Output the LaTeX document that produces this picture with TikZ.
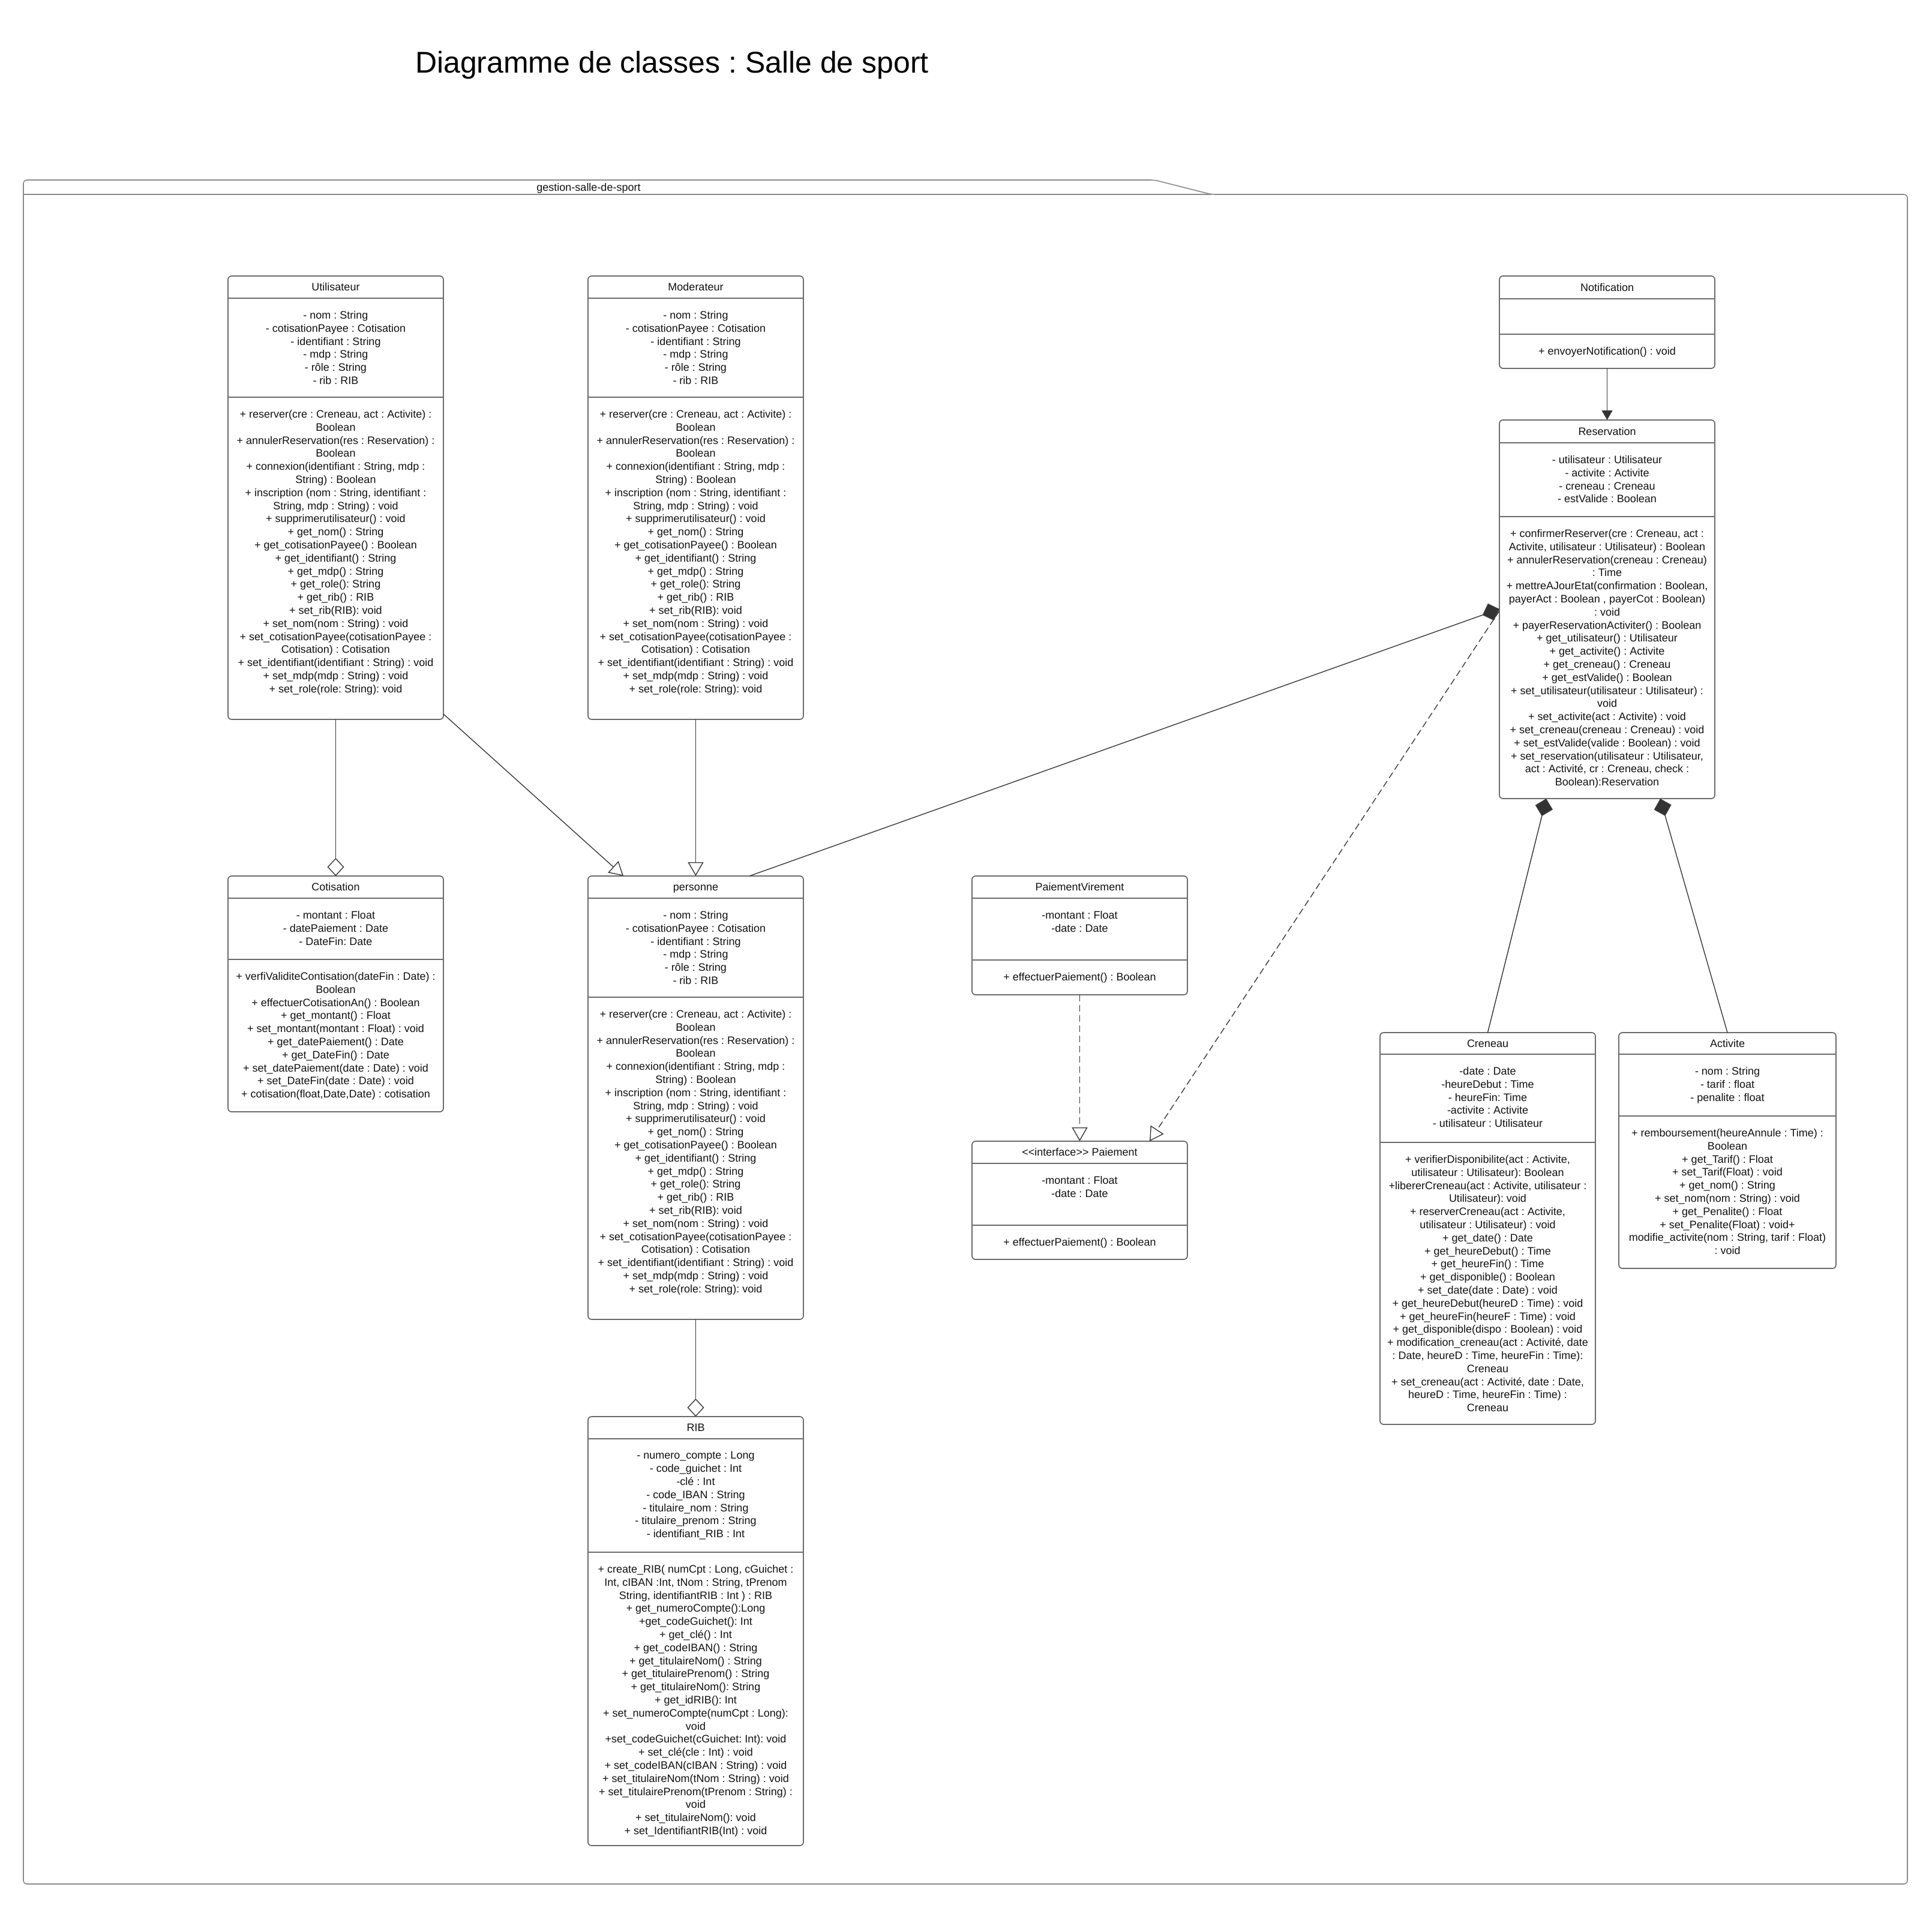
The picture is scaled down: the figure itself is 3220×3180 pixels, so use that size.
\documentclass[tikz,border=0pt]{standalone}
\usepackage{fontspec}
\setmainfont{Liberation Sans}
\usetikzlibrary{arrows.meta,calc,fit}
\frenchspacing

\definecolor{boxline}{HTML}{6B6B6B}
\definecolor{linkline}{HTML}{3A3A3A}
\definecolor{headfill}{HTML}{333333}
\definecolor{pkgline}{HTML}{8A8A8A}
\definecolor{txt}{HTML}{111111}

\tikzset{
  classframe/.style={rectangle, draw=boxline, line width=0.9pt, rounded corners=3pt,
    inner sep=0pt, outer sep=0pt},
  divider/.style={draw=boxline, line width=0.9pt},
  classtitle/.style={font=\fontsize{9pt}{10.9pt}\selectfont, text=txt, inner sep=0pt, anchor=base},
  members/.style={font=\fontsize{9pt}{10.9pt}\selectfont, text=txt, align=center,
    inner sep=0pt, anchor=north},
  conn/.style={draw=linkline, line width=0.7pt},
  aggr/.style={conn, -{Diamond[open, length=15pt, width=14pt, fill=white]}},
  comp/.style={conn, -{Diamond[length=15pt, width=15pt, fill=headfill]}},
  inherit/.style={conn, -{Triangle[open, length=11.5pt, width=13pt, fill=white]}},
  realize/.style={conn, dash pattern=on 5.5pt off 3pt,
    -{Triangle[open, length=11.5pt, width=13pt, fill=white]}},
  assoc/.style={conn, -{Triangle[length=8pt, width=9pt, fill=headfill]}},
}

% class box: name, left x, top y, bottom y, title rule y, attribute rule y,
% title, attributes, operations
\newcommand\umlclass[9]{%
  \pgfmathsetmacro\ucxl{#2}%
  \pgfmathsetmacro\ucxr{#2+\ucwidth}%
  \pgfmathsetmacro\ucxc{#2+\ucwidth/2}%
  \node[classframe, fit={(\ucxl,#3) (\ucxr,#4)}] (#1) {};
  \draw[divider] (\ucxl,#5) -- (\ucxr,#5);
  \draw[divider] (\ucxl,#6) -- (\ucxr,#6);
  \node[classtitle] (#1-t) at (\ucxc,{(#3+#5)/2+6.4}) {#7};
  \node[members] (#1-a) at (\ucxc,#5+21) {#8};
  \node[members] (#1-m) at (\ucxc,#6+21) {#9};
}
\newcommand\ucwidth{359}

\newcommand\personattrs{%
- nom : String\\
- cotisationPayee : Cotisation\\
- identifiant : String\\
- mdp : String\\
- rôle : String\\
- rib : RIB}

\newcommand\personops{%
+ reserver(cre : Creneau, act : Activite) :\\
Boolean\\
+ annulerReservation(res : Reservation) :\\
Boolean\\
+ connexion(identifiant : String, mdp :\\
String) : Boolean\\
+ inscription (nom : String, identifiant :\\
String, mdp : String) : void\\
+ supprimerutilisateur() : void\\
+ get\_nom() : String\\
+ get\_cotisationPayee() : Boolean\\
+ get\_identifiant() : String\\
+ get\_mdp() : String\\
+ get\_role(): String\\
+ get\_rib() : RIB\\
+ set\_rib(RIB): void\\
+ set\_nom(nom : String) : void\\
+ set\_cotisationPayee(cotisationPayee :\\
Cotisation) : Cotisation\\
+ set\_identifiant(identifiant : String) : void\\
+ set\_mdp(mdp : String) : void\\
+ set\_role(role: String): void}

\begin{document}
\begin{tikzpicture}[x=0.5pt, y=-0.5pt]
\fill[white] (0,0) rectangle (3220,3180);
\useasboundingbox (0,0) rectangle (3220,3180);

% heading
\node[font=\fontsize{25pt}{30pt}\selectfont, text=black, inner sep=0pt, anchor=base]
  (title) at (1120,121) {Diagramme de classes : Salle de sport};

% package frame with its tab
\draw[pkgline, line width=0.8pt, rounded corners=3pt]
  (39,324) -- (39,300) -- (1924,300) -- (2019,324) -- (3179,324) -- (3179,3140)
  -- (39,3140) -- cycle;
\draw[pkgline, line width=0.8pt] (39,324) -- (2019,324);
\node[font=\fontsize{9pt}{10.9pt}\selectfont, text=txt, inner sep=0pt, anchor=base]
  (pkglabel) at (981,318) {gestion-salle-de-sport};

% classes
\umlclass{util}{380}{460}{1199}{497}{662}{Utilisateur}{\personattrs}{\personops}
\umlclass{mod}{980}{460}{1199}{497}{662}{Moderateur}{\personattrs}{\personops}
\umlclass{note}{2499}{460}{614}{498}{557}{Notification}{}{+ envoyerNotification() : void}
\umlclass{res}{2499}{700}{1331}{738}{861}{Reservation}{%
- utilisateur : Utilisateur\\
- activite : Activite\\
- creneau : Creneau\\
- estValide : Boolean}{%
+ confirmerReserver(cre : Creneau, act :\\
Activite, utilisateur : Utilisateur) : Boolean\\
+ annulerReservation(creneau : Creneau)\\
: Time\\
+ mettreAJourEtat(confirmation : Boolean,\\
payerAct : Boolean , payerCot : Boolean)\\
: void\\
+ payerReservationActiviter() : Boolean\\
+ get\_utilisateur() : Utilisateur\\
+ get\_activite() : Activite\\
+ get\_creneau() : Creneau\\
+ get\_estValide() : Boolean\\
+ set\_utilisateur(utilisateur : Utilisateur) :\\
void\\
+ set\_activite(act : Activite) : void\\
+ set\_creneau(creneau : Creneau) : void\\
+ set\_estValide(valide : Boolean) : void\\
+ set\_reservation(utilisateur : Utilisateur,\\
act : Activité, cr : Creneau, check :\\
Boolean):Reservation}
\umlclass{coti}{380}{1460}{1853}{1497}{1599}{Cotisation}{%
- montant : Float\\
- datePaiement : Date\\
- DateFin: Date}{%
+ verfiValiditeContisation(dateFin : Date) :\\
Boolean\\
+ effectuerCotisationAn() : Boolean\\
+ get\_montant() : Float\\
+ set\_montant(montant : Float) : void\\
+ get\_datePaiement() : Date\\
+ get\_DateFin() : Date\\
+ set\_datePaiement(date : Date) : void\\
+ set\_DateFin(date : Date) : void\\
+ cotisation(float,Date,Date) : cotisation}
\umlclass{pers}{980}{1460}{2199}{1497}{1662}{personne}{\personattrs}{\personops}
\umlclass{pv}{1620}{1460}{1658}{1497}{1600}{PaiementVirement}{%
-montant : Float\\
-date : Date}{+ effectuerPaiement() : Boolean}
\umlclass{pay}{1620}{1902}{2099}{1939}{2042}{<{}<interface>{}> Paiement}{%
-montant : Float\\
-date : Date}{+ effectuerPaiement() : Boolean}
\umlclass{cre}{2300}{1721}{2374}{1757}{1904}{Creneau}{%
-date : Date\\
-heureDebut : Time\\
- heureFin: Time\\
-activite : Activite\\
- utilisateur : Utilisateur}{%
+ verifierDisponibilite(act : Activite,\\
utilisateur : Utilisateur): Boolean\\
+libererCreneau(act : Activite, utilisateur :\\
Utilisateur): void\\
+ reserverCreneau(act : Activite,\\
utilisateur : Utilisateur) : void\\
+ get\_date() : Date\\
+ get\_heureDebut() : Time\\
+ get\_heureFin() : Time\\
+ get\_disponible() : Boolean\\
+ set\_date(date : Date) : void\\
+ get\_heureDebut(heureD : Time) : void\\
+ get\_heureFin(heureF : Time) : void\\
+ get\_disponible(dispo : Boolean) : void\\
+ modification\_creneau(act : Activité, date\\
: Date, heureD : Time, heureFin : Time):\\
Creneau\\
+ set\_creneau(act : Activité, date : Date,\\
heureD : Time, heureFin : Time) :\\
Creneau}
\renewcommand\ucwidth{362}
\umlclass{act}{2698}{1721}{2114}{1757}{1860}{Activite}{%
- nom : String\\
- tarif : float\\
- penalite : float}{%
+ remboursement(heureAnnule : Time) :\\
Boolean\\
+ get\_Tarif() : Float\\
+ set\_Tarif(Float) : void\\
+ get\_nom() : String\\
+ set\_nom(nom : String) : void\\
+ get\_Penalite() : Float\\
+ set\_Penalite(Float) : void+\\
modifie\_activite(nom : String, tarif : Float)\\
: void}
\renewcommand\ucwidth{359}
\umlclass{rib}{980}{2361}{3076}{2398}{2587}{RIB}{%
- numero\_compte : Long\\
- code\_guichet : Int\\
-clé : Int\\
- code\_IBAN : String\\
- titulaire\_nom : String\\
- titulaire\_prenom : String\\
- identifiant\_RIB : Int}{%
+ create\_RIB( numCpt : Long, cGuichet :\\
Int, cIBAN :Int, tNom : String, tPrenom\\
String, identifiantRIB : Int ) : RIB\\
+ get\_numeroCompte():Long\\
+get\_codeGuichet(): Int\\
+ get\_clé() : Int\\
+ get\_codeIBAN() : String\\
+ get\_titulaireNom() : String\\
+ get\_titulairePrenom() : String\\
+ get\_titulaireNom(): String\\
+ get\_idRIB(): Int\\
+ set\_numeroCompte(numCpt : Long):\\
void\\
+set\_codeGuichet(cGuichet: Int): void\\
+ set\_clé(cle : Int) : void\\
+ set\_codeIBAN(cIBAN : String) : void\\
+ set\_titulaireNom(tNom : String) : void\\
+ set\_titulairePrenom(tPrenom : String) :\\
void\\
+ set\_titulaireNom(): void\\
+ set\_IdentifiantRIB(Int) : void}

% relations
\draw[assoc] (note.south) -- (res.north);
\draw[aggr] (util.south) -- (coti.north);
\draw[inherit] ($(util.south east)+(0,-9)$) -- ($(pers.north west)+(59,0)$);
\draw[inherit] (mod.south) -- (pers.north);
\draw[aggr] (pers.south) -- (rib.north);
\draw[realize] (pv.south) -- (pay.north);
\draw[realize] ($(res.north west)+(0,318)$) -- ($(pay.north west)+(296,0)$);
\draw[comp] ($(pers.north west)+(269,0)$) -- ($(res.north west)+(0,315)$);
\draw[comp] (cre.north) -- ($(res.south west)+(78,0)$);
\draw[comp] (act.north) -- ($(res.south west)+(268,0)$);
\end{tikzpicture}
\end{document}
